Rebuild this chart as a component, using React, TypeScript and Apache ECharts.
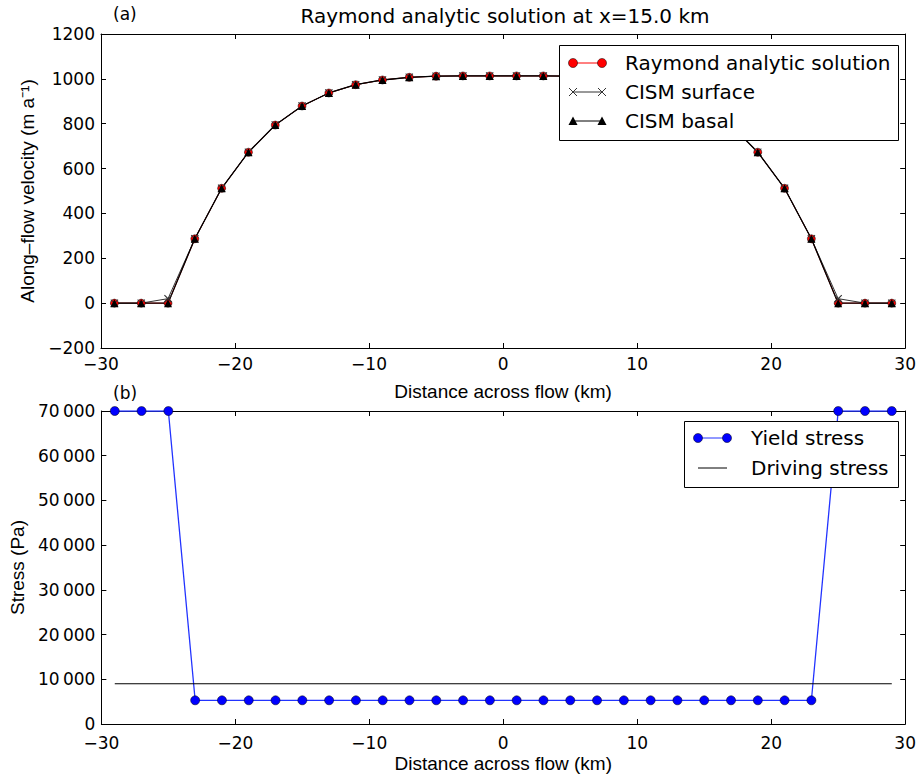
import React, { useEffect, useRef } from 'react';
import * as echarts from 'echarts';

// ---------- data ----------
const distanceKm = [-29, -27, -25, -23, -21, -19, -17, -15, -13, -11, -9, -7, -5, -3, -1, 1, 3, 5, 7, 9, 11, 13, 15, 17, 19, 21, 23, 25, 27, 29];
const raymondVelocity = [0, 0, 0, 287, 512, 673, 794, 879, 937, 974, 995, 1007, 1012, 1013, 1013, 1013, 1013, 1012, 1007, 995, 974, 937, 879, 794, 673, 512, 287, 0, 0, 0];
const cismSurfaceVelocity = [0, 0, 20, 287, 512, 673, 794, 879, 937, 974, 995, 1007, 1012, 1013, 1013, 1013, 1013, 1012, 1007, 995, 974, 937, 879, 794, 673, 512, 287, 20, 0, 0];
const cismBasalVelocity = [0, 0, 0, 287, 512, 673, 794, 879, 937, 974, 995, 1007, 1012, 1013, 1013, 1013, 1013, 1012, 1007, 995, 974, 937, 879, 794, 673, 512, 287, 0, 0, 0];
const yieldStress = [70000, 70000, 70000, 5300, 5300, 5300, 5300, 5300, 5300, 5300, 5300, 5300, 5300, 5300, 5300, 5300, 5300, 5300, 5300, 5300, 5300, 5300, 5300, 5300, 5300, 5300, 5300, 70000, 70000, 70000];
const drivingStressX = [-29, 29];
const drivingStressY = [9000, 9000];

const xAxisRange = { min: -30, max: 30, interval: 10 };
const velocityRange = { min: -200, max: 1200, interval: 200 };
const stressRange = { min: 0, max: 70000, interval: 10000 };

const titleText = 'Raymond analytic solution at x=15.0 km';
const xAxisName = 'Distance across flow (km)';
const velocityAxisName = 'Along\u2013flow velocity (m a\u207B\u00B9)';
const stressAxisName = 'Stress (Pa)';
const legendTop = ['Raymond analytic solution', 'CISM surface', 'CISM basal'];
const legendBottom = ['Yield stress', 'Driving stress'];

const FONT = 'DejaVu Sans';
const NAME_FONT = 'Liberation Sans';
const minusFmt = (v: number) => (v < 0 ? '\u2212' + Math.abs(v) : String(v));
const stressFmt = (v: number) => {
  if (v >= 1000) {
    const th = Math.floor(v / 1000);
    const rest = String(v % 1000).padStart(3, '0');
    return th + '\u2009' + rest;
  }
  return String(v);
};

const xSymbol = 'path://M0,1L1,0L10,9L9,10Z M0,9L9,0L10,1L1,10Z';

function mainX(gridIndex: number, nameGap: number, labelMargin: number) {
  return {
    type: 'value', gridIndex, ...xAxisRange, position: 'bottom',
    axisLine: { show: true, onZero: false, lineStyle: { color: '#000', width: 1 } },
    axisTick: { show: true, inside: true, length: 5, lineStyle: { color: '#000' } },
    axisLabel: { color: '#000', fontSize: 17, fontFamily: FONT, margin: labelMargin, formatter: minusFmt },
    splitLine: { show: false },
    name: xAxisName, nameLocation: 'middle', nameGap,
    nameTextStyle: { color: '#000', fontSize: 19, fontFamily: NAME_FONT },
  };
}
function topX(gridIndex: number) {
  return {
    type: 'value', gridIndex, ...xAxisRange, position: 'top',
    axisLine: { show: true, onZero: false, lineStyle: { color: '#000', width: 1 } },
    axisTick: { show: true, inside: true, length: 5, lineStyle: { color: '#000' } },
    axisLabel: { show: false }, splitLine: { show: false },
  };
}
function mainY(gridIndex: number, range: any, fmt: any, name: string, nameGap: number) {
  return {
    type: 'value', gridIndex, ...range, position: 'left',
    axisLine: { show: true, onZero: false, lineStyle: { color: '#000', width: 1 } },
    axisTick: { show: true, inside: true, length: 5, lineStyle: { color: '#000' } },
    axisLabel: { color: '#000', fontSize: 17, fontFamily: FONT, margin: 6, formatter: fmt },
    splitLine: { show: false },
    name, nameLocation: 'middle', nameGap,
    nameTextStyle: { color: '#000', fontSize: 19, fontFamily: NAME_FONT },
  };
}
function rightY(gridIndex: number, range: any) {
  return {
    type: 'value', gridIndex, ...range, position: 'right',
    axisLine: { show: true, onZero: false, lineStyle: { color: '#000', width: 1 } },
    axisTick: { show: true, inside: true, length: 5, lineStyle: { color: '#000' } },
    axisLabel: { show: false }, splitLine: { show: false },
  };
}

const pairs = (xs: number[], ys: number[]) => xs.map((x, i) => [x, ys[i]]);

function legendGraphics() {
  const Z = 110;
  const txt = (x: number, y: number, text: string) => ({
    type: 'text', x, y, z: Z,
    style: { text, fill: '#000', fontSize: 20, fontFamily: FONT, verticalAlign: 'middle', align: 'left' },
  });
  const line = (x1: number, x2: number, y: number, color: string) => ({
    type: 'line', z: Z, shape: { x1, y1: y, x2, y2: y }, style: { stroke: color, lineWidth: 1 },
  });
  const circ = (cx: number, cy: number, fill: string) => ({
    type: 'circle', z: Z, shape: { cx, cy, r: 4.5 }, style: { fill, stroke: '#000', lineWidth: 0.5 },
  });
  const cross = (cx: number, cy: number) => [
    { type: 'line', z: Z, shape: { x1: cx - 4, y1: cy - 4, x2: cx + 4, y2: cy + 4 }, style: { stroke: '#333', lineWidth: 1 } },
    { type: 'line', z: Z, shape: { x1: cx - 4, y1: cy + 4, x2: cx + 4, y2: cy - 4 }, style: { stroke: '#333', lineWidth: 1 } },
  ];
  const tri = (cx: number, cy: number) => ({
    type: 'polygon', z: Z, shape: { points: [[cx - 4.5, cy + 4], [cx + 4.5, cy + 4], [cx, cy - 4.5]] }, style: { fill: '#000' },
  });
  const a1 = 573, a2 = 602, tx = 625;
  const b1 = 698, b2 = 727, btx = 751;
  return [
    { type: 'rect', z: 100, shape: { x: 559.5, y: 45.5, width: 339, height: 95 }, style: { fill: '#fff', stroke: '#000', lineWidth: 1 } },
    line(a1, a2, 63, '#ff0000'), circ(a1, 63, '#ff0000'), circ(a2, 63, '#ff0000'), txt(tx, 63, legendTop[0]),
    line(a1, a2, 92, '#333'), ...cross(a1, 92), ...cross(a2, 92), txt(tx, 92, legendTop[1]),
    line(a1, a2, 121, '#000'), tri(a1, 121), tri(a2, 121), txt(tx, 121, legendTop[2]),
    { type: 'rect', z: 100, shape: { x: 684.5, y: 421.5, width: 214, height: 66 }, style: { fill: '#fff', stroke: '#000', lineWidth: 1 } },
    line(b1, b2, 438, '#2233ff'), circ(b1, 438, '#0000ff'), circ(b2, 438, '#0000ff'), txt(btx, 438, legendBottom[0]),
    line(b1, b2, 468, '#000'), txt(btx, 468, legendBottom[1]),
  ];
}

export default function App() {
  const ref = useRef<HTMLDivElement>(null);
  useEffect(() => {
    if (!ref.current) return;
    const chart = echarts.init(ref.current, undefined, { renderer: 'svg' });
    chart.setOption({
      animation: false,
      backgroundColor: '#fff',
      textStyle: { fontFamily: FONT },
      title: [
        { text: titleText, left: 505, top: 6, padding: 0, textAlign: 'center', textStyle: { fontSize: 20, fontWeight: 'normal', color: '#000', fontFamily: FONT } },
        { text: '(a)', left: 113, top: 5, padding: 0, textStyle: { fontSize: 17, fontWeight: 'normal', color: '#000', fontFamily: FONT } },
        { text: '(b)', left: 113, top: 384, padding: 0, textStyle: { fontSize: 17, fontWeight: 'normal', color: '#000', fontFamily: FONT } },
      ],
      grid: [
        { left: 101, top: 34, width: 807, height: 314 },
        { left: 101, top: 411, width: 807, height: 313 },
      ],
      xAxis: [mainX(0, 34, 7), topX(0), mainX(1, 30, 10), topX(1)],
      yAxis: [
        mainY(0, velocityRange, minusFmt, velocityAxisName, 59),
        rightY(0, velocityRange),
        mainY(1, stressRange, stressFmt, stressAxisName, 73),
        rightY(1, stressRange),
      ],
      series: [
        {
          name: legendTop[0], type: 'line', xAxisIndex: 0, yAxisIndex: 0,
          data: pairs(distanceKm, raymondVelocity),
          symbol: 'circle', symbolSize: 8,
          itemStyle: { color: '#ff0000', borderColor: '#000', borderWidth: 0.5 },
          lineStyle: { color: '#ff0000', width: 1 },
        },
        {
          name: legendTop[1], type: 'line', xAxisIndex: 0, yAxisIndex: 0,
          data: pairs(distanceKm, cismSurfaceVelocity),
          symbol: xSymbol, symbolSize: 8,
          itemStyle: { color: '#333' },
          lineStyle: { color: '#333', width: 1 },
        },
        {
          name: legendTop[2], type: 'line', xAxisIndex: 0, yAxisIndex: 0,
          data: pairs(distanceKm, cismBasalVelocity),
          symbol: 'triangle', symbolSize: 8,
          itemStyle: { color: '#000' },
          lineStyle: { color: '#000', width: 1.3 },
        },
        {
          name: legendBottom[0], type: 'line', xAxisIndex: 2, yAxisIndex: 2,
          data: pairs(distanceKm, yieldStress),
          symbol: 'circle', symbolSize: 9,
          itemStyle: { color: '#0000ff', borderColor: '#000', borderWidth: 0.5 },
          lineStyle: { color: '#2233ff', width: 1.3 },
        },
        {
          name: legendBottom[1], type: 'line', xAxisIndex: 2, yAxisIndex: 2,
          data: pairs(drivingStressX, drivingStressY),
          showSymbol: false, symbol: 'none',
          lineStyle: { color: '#000', width: 1 },
        },
      ],
      graphic: legendGraphics(),
    });
    return () => chart.dispose();
  }, []);
  return (
    <div
      ref={ref}
      style={{ position: 'absolute', left: 0, top: 0, width: 919, height: 778, background: '#fff' }}
    />
  );
}
